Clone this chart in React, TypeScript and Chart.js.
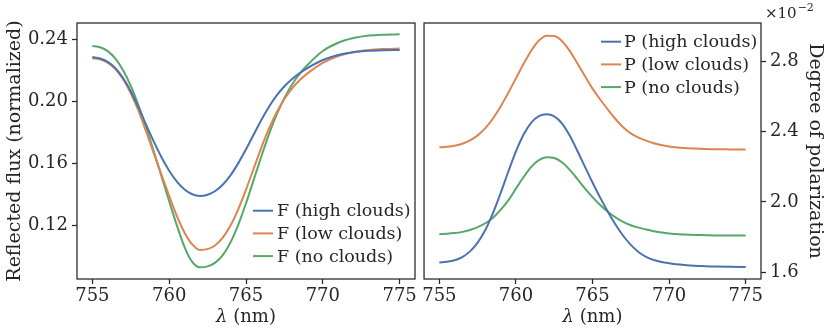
import React, { useEffect, useRef } from 'react';
import { Chart, registerables } from 'chart.js';

Chart.register(...registerables);

// ---- data ----
const wavelengths = [
  755, 755.5, 756, 756.5, 757, 757.5, 758, 758.5, 759, 759.5, 760, 760.5, 761, 761.5, 762, 762.5,
  763, 763.5, 764, 764.5, 765, 765.5, 766, 766.5, 767, 767.5, 768, 768.5, 769, 770, 771, 772, 773, 774, 775,
];

const fluxHigh = [
  0.2284, 0.2275, 0.2253, 0.2212, 0.2149, 0.2064, 0.196, 0.1849, 0.174, 0.164, 0.1553, 0.1483, 0.1433, 0.1402, 0.1391, 0.1399,
  0.1423, 0.1465, 0.1525, 0.1602, 0.1691, 0.1786, 0.188, 0.1965, 0.2037, 0.2096, 0.2143, 0.2181, 0.2213, 0.2265, 0.2297, 0.2315, 0.2324, 0.2328, 0.233,
];
const fluxLow = [
  0.2277, 0.227, 0.2248, 0.2206, 0.2141, 0.2051, 0.1939, 0.1805, 0.1665, 0.1527, 0.1391, 0.1262, 0.1155, 0.108, 0.1044, 0.1049,
  0.1074, 0.1124, 0.1202, 0.1306, 0.1431, 0.1567, 0.1702, 0.1825, 0.1929, 0.2014, 0.2082, 0.2136, 0.2179, 0.2247, 0.2291, 0.2317, 0.233, 0.2336, 0.2339,
];
const fluxNone = [
  0.2355, 0.2347, 0.2322, 0.2274, 0.2199, 0.2099, 0.1974, 0.1831, 0.1677, 0.1517, 0.1357, 0.1202, 0.1062, 0.0967, 0.0932, 0.0938,
  0.0962, 0.1012, 0.1094, 0.1207, 0.1344, 0.1494, 0.1646, 0.1789, 0.1915, 0.2021, 0.2108, 0.2178, 0.2233, 0.2323, 0.2376, 0.2406, 0.2422, 0.2428, 0.243,
];

// degree of polarization, in units of 1e-2
const polHigh = [
  1.656, 1.66, 1.669, 1.687, 1.719, 1.769, 1.841, 1.937, 2.051, 2.172, 2.288, 2.384, 2.452, 2.489, 2.499, 2.487,
  2.447, 2.379, 2.293, 2.201, 2.111, 2.025, 1.945, 1.872, 1.808, 1.756, 1.716, 1.688, 1.67, 1.651, 1.641, 1.636, 1.633, 1.631, 1.63,
];
const polLow = [
  2.311, 2.314, 2.32, 2.331, 2.35, 2.379, 2.42, 2.475, 2.543, 2.621, 2.703, 2.786, 2.86, 2.918, 2.946, 2.944,
  2.916, 2.861, 2.79, 2.716, 2.645, 2.583, 2.526, 2.472, 2.425, 2.39, 2.366, 2.349, 2.334, 2.316, 2.307, 2.303, 2.3, 2.299, 2.298,
];
const polNone = [
  1.817, 1.819, 1.823, 1.83, 1.841, 1.857, 1.879, 1.911, 1.955, 2.009, 2.076, 2.142, 2.2, 2.238, 2.254, 2.25,
  2.226, 2.184, 2.132, 2.078, 2.028, 1.983, 1.944, 1.912, 1.887, 1.868, 1.854, 1.844, 1.834, 1.821, 1.815, 1.812, 1.81, 1.809, 1.809,
];

const xTicks = [755, 760, 765, 770, 775];
const fluxTicks = [0.12, 0.16, 0.2, 0.24];
const polTicks = [1.6, 2.0, 2.4, 2.8];

const fluxLabels = ['F (high clouds)', 'F (low clouds)', 'F (no clouds)'];
const polLabels = ['P (high clouds)', 'P (low clouds)', 'P (no clouds)'];
const seriesColors = ['#4C72B0', '#DD8452', '#55A868'];

const FONT = "'DejaVu Serif', serif";
const INK = '#262626';
const FS = 18;
const TITLE_FS = 19;
const LEG_FS = 17.5;

const framePlugin = {
  id: 'frame',
  afterDatasetsDraw(chart: any) {
    const { ctx, chartArea: a } = chart;
    ctx.save();
    ctx.strokeStyle = INK;
    ctx.lineWidth = 1.25;
    ctx.strokeRect(a.left, a.top, a.right - a.left, a.bottom - a.top);
    ctx.restore();
  },
};

const legendPlugin = {
  id: 'inlineLegend',
  afterDraw(chart: any, _args: any, opts: any) {
    const { ctx, chartArea: a } = chart;
    const x0 = a.right + opts.dx;
    const y0 = opts.fromBottom ? a.bottom + opts.dy : a.top + opts.dy;
    ctx.save();
    chart.data.datasets.forEach((ds: any, i: number) => {
      const y = y0 + i * opts.rowGap;
      ctx.strokeStyle = ds.borderColor;
      ctx.lineWidth = 2;
      ctx.beginPath();
      ctx.moveTo(x0, y);
      ctx.lineTo(x0 + opts.handle, y);
      ctx.stroke();
      ctx.fillStyle = INK;
      ctx.font = `${LEG_FS}px ${FONT}`;
      ctx.textBaseline = 'middle';
      ctx.textAlign = 'left';
      ctx.fillText(ds.label, x0 + opts.handle + opts.gap, y + 1);
    });
    ctx.restore();
  },
};

const xTitlePlugin = {
  id: 'xTitle',
  afterDraw(chart: any, _args: any, opts: any) {
    const { ctx, chartArea: a } = chart;
    ctx.save();
    ctx.fillStyle = INK;
    ctx.textBaseline = 'middle';
    ctx.textAlign = 'left';
    const italic = `italic ${FS}px ${FONT}`;
    const normal = `${FS}px ${FONT}`;
    ctx.font = italic;
    const w1 = ctx.measureText('λ').width;
    ctx.font = normal;
    const w2 = ctx.measureText(' (nm)').width;
    const cx = (a.left + a.right) / 2;
    const x = cx - (w1 + w2) / 2;
    ctx.font = italic;
    ctx.fillText('λ', x, opts.y);
    ctx.font = normal;
    ctx.fillText(' (nm)', x + w1, opts.y);
    ctx.restore();
  },
};

const offsetTextPlugin = {
  id: 'offsetText',
  afterDraw(chart: any, _args: any, opts: any) {
    if (!opts || !opts.show) return;
    const { ctx } = chart;
    ctx.save();
    ctx.fillStyle = INK;
    ctx.textBaseline = 'alphabetic';
    ctx.textAlign = 'left';
    ctx.font = `15px ${FONT}`;
    const base = '×10';
    ctx.fillText(base, opts.x, opts.y);
    const w = ctx.measureText(base).width;
    ctx.font = `11px ${FONT}`;
    ctx.fillText('−2', opts.x + w + 1, opts.y - 7);
    ctx.restore();
  },
};

function makeDatasets(labels: string[], series: number[][]) {
  return series.map((vals, i) => ({
    label: labels[i],
    data: wavelengths.map((x, j) => ({ x, y: vals[j] })),
    borderColor: seriesColors[i],
    backgroundColor: seriesColors[i],
    borderWidth: 2,
    pointRadius: 0,
    fill: false,
    cubicInterpolationMode: 'monotone' as const,
  }));
}

const tickGrid = {
  display: true,
  drawOnChartArea: false,
  drawTicks: true,
  tickLength: 5,
  tickWidth: 1.25,
  tickColor: INK,
};

function xScale() {
  return {
    type: 'linear' as const,
    min: 754,
    max: 776,
    afterBuildTicks: (s: any) => {
      s.ticks = xTicks.map((v) => ({ value: v }));
    },
    afterFit: (s: any) => {
      s.height = 56;
    },
    grid: tickGrid,
    border: { display: false },
    ticks: {
      font: { family: FONT, size: FS },
      color: INK,
      padding: 2,
      maxRotation: 0,
      autoSkip: false,
      callback: (v: any) => String(v),
    },
    title: { display: false },
  };
}

export default function App() {
  const leftRef = useRef<HTMLCanvasElement>(null);
  const rightRef = useRef<HTMLCanvasElement>(null);

  useEffect(() => {
    const left = new Chart(leftRef.current!, {
      type: 'line',
      data: { datasets: makeDatasets(fluxLabels, [fluxHigh, fluxLow, fluxNone]) as any },
      options: {
        responsive: false,
        animation: false,
        layout: { padding: { top: 23, right: 5, left: 0, bottom: 0 } },
        plugins: {
          legend: { display: false },
          tooltip: { enabled: false },
          inlineLegend: { dx: -162, dy: -68.3, fromBottom: true, rowGap: 22.7, handle: 20, gap: 4 },
          xTitle: { y: 317 },
        } as any,
        scales: {
          x: xScale() as any,
          y: {
            type: 'linear',
            position: 'left',
            min: 0.0857,
            max: 0.2503,
            afterBuildTicks: (s: any) => {
              s.ticks = fluxTicks.map((v) => ({ value: v }));
            },
            afterFit: (s: any) => {
              s.width = 77;
            },
            grid: tickGrid,
            border: { display: false },
            ticks: {
              font: { family: FONT, size: FS },
              color: INK,
              padding: 4,
              autoSkip: false,
              callback: (v: any) => Number(v).toFixed(2),
            },
            title: {
              display: true,
              text: 'Reflected flux (normalized)',
              font: { family: FONT, size: TITLE_FS },
              color: INK,
              padding: { top: 4, bottom: 0 },
            },
          } as any,
        },
      },
      plugins: [framePlugin, legendPlugin, xTitlePlugin],
    });

    const right = new Chart(rightRef.current!, {
      type: 'line',
      data: { datasets: makeDatasets(polLabels, [polHigh, polLow, polNone]) as any },
      options: {
        responsive: false,
        animation: false,
        layout: { padding: { top: 23, right: 0, left: 4, bottom: 0 } },
        plugins: {
          legend: { display: false },
          tooltip: { enabled: false },
          inlineLegend: { dx: -160, dy: 18.7, fromBottom: false, rowGap: 22.7, handle: 20, gap: 3 },
          xTitle: { y: 317 },
          offsetText: { show: true, x: 345, y: 18 },
        } as any,
        scales: {
          x: xScale() as any,
          y: {
            type: 'linear',
            position: 'right',
            min: 1.562,
            max: 3.018,
            afterBuildTicks: (s: any) => {
              s.ticks = polTicks.map((v) => ({ value: v }));
            },
            afterFit: (s: any) => {
              s.width = 70;
            },
            grid: tickGrid,
            border: { display: false },
            ticks: {
              font: { family: FONT, size: FS },
              color: INK,
              padding: 4,
              autoSkip: false,
              callback: (v: any) => Number(v).toFixed(1),
            },
            title: {
              display: true,
              text: 'Degree of polarization',
              font: { family: FONT, size: TITLE_FS },
              color: INK,
              padding: { top: 5, bottom: 0 },
            },
          } as any,
        },
      },
      plugins: [framePlugin, legendPlugin, xTitlePlugin, offsetTextPlugin],
    });

    return () => {
      left.destroy();
      right.destroy();
    };
  }, []);

  return (
    <div style={{ position: 'fixed', left: 0, top: 0, width: 831, height: 335, background: '#fff' }}>
      <canvas ref={leftRef} width={420} height={335} style={{ position: 'absolute', left: 0, top: 0, width: 420, height: 335 }} />
      <canvas ref={rightRef} width={411} height={335} style={{ position: 'absolute', left: 420, top: 0, width: 411, height: 335 }} />
    </div>
  );
}
